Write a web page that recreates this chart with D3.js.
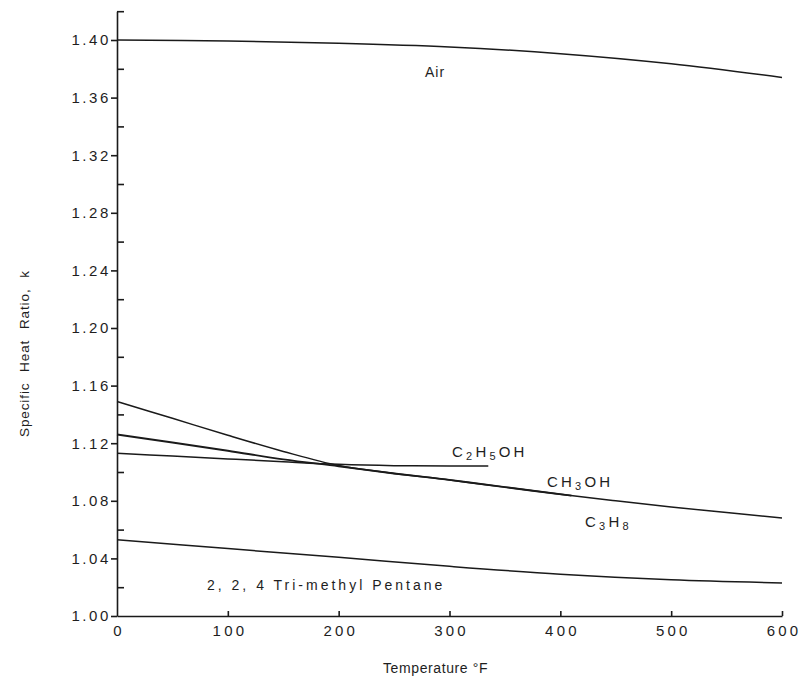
<!DOCTYPE html>
<html>
<head>
<meta charset="utf-8">
<script src="https://cdn.jsdelivr.net/npm/d3@7"></script>
<style>
  html, body { margin: 0; padding: 0; background: #fff; }
  svg { display: block; }
  text { fill: #1e1e1e; }
</style>
</head>
<body>
<svg id="chart" width="801" height="676"></svg>
<script>
// Specific heat ratio k versus temperature (°F)
const airTemps = [0, 100, 200, 300, 400, 500, 600];
const airK     = [1.400, 1.3993, 1.3978, 1.3952, 1.3905, 1.3835, 1.374];

const propaneTemps = [0, 50, 100, 150, 200, 250, 300, 350, 400, 450, 500, 550, 600];
const propaneK     = [1.149, 1.1373, 1.1255, 1.1143, 1.1045, 1.0990, 1.0945, 1.0895, 1.0845, 1.0800, 1.0757, 1.0718, 1.068];

const methanolTemps = [0, 50, 100, 150, 200, 250, 300, 350, 410];
const methanolK     = [1.126, 1.1205, 1.1148, 1.1088, 1.1040, 1.0990, 1.0945, 1.0895, 1.0836];

const ethanolTemps = [0, 50, 100, 150, 200, 250, 300, 335];
const ethanolK     = [1.113, 1.1111, 1.1091, 1.1071, 1.1053, 1.1044, 1.1042, 1.1042];

const pentaneTemps = [0, 100, 200, 300, 400, 500, 600];
const pentaneK     = [1.053, 1.0468, 1.0408, 1.0345, 1.0290, 1.0252, 1.023];

const xTicks      = [0, 100, 200, 300, 400, 500, 600];
const yMajorTicks = [1.00, 1.04, 1.08, 1.12, 1.16, 1.20, 1.24, 1.28, 1.32, 1.36, 1.40];
const yMinorTicks = [1.02, 1.06, 1.10, 1.14, 1.18, 1.22, 1.26, 1.30, 1.34, 1.38, 1.42];

const svg = d3.select("#chart");
const FONT = "'Liberation Sans', Arial, sans-serif";

const x = d3.scaleLinear().domain([0, 600]).range([117, 782]);
const y = d3.scaleLinear().domain([1.00, 1.42]).range([616, 11.2]);

// y axis: labelled ticks outside, intermediate ticks inside
const yAxis = svg.append("g")
  .attr("transform", `translate(${x(0)},0)`)
  .call(d3.axisLeft(y).tickValues(yMajorTicks).tickFormat(d3.format(".2f"))
    .tickSize(6).tickSizeOuter(0).tickPadding(0));
yAxis.selectAll("text")
  .attr("font-family", FONT).attr("font-size", 15)
  .attr("letter-spacing", "2.6px").attr("fill", "#1e1e1e");

const yMinor = svg.append("g")
  .attr("transform", `translate(${x(0)},0)`)
  .call(d3.axisRight(y).tickValues(yMinorTicks).tickFormat("").tickSize(7).tickSizeOuter(0));
yMinor.select(".domain").remove();

// x axis: ticks point into the plot
const xAxis = svg.append("g")
  .attr("transform", `translate(0,${y(1.00)})`)
  .call(d3.axisBottom(x).tickValues(xTicks).tickFormat(d3.format("d"))
    .tickSize(-5).tickSizeOuter(0).tickPadding(9));
xAxis.selectAll(".tick").filter(d => d === 0).select("line").remove();
xAxis.selectAll("text")
  .attr("font-family", FONT).attr("font-size", 15)
  .attr("letter-spacing", "3.2px").attr("dx", "1.6px").attr("fill", "#1e1e1e");

svg.selectAll(".domain, .tick line")
  .attr("stroke", "#1a1a1a").attr("stroke-width", 1.6);

// curves
const line = d3.line()
  .x(d => x(d[0]))
  .y(d => y(d[1]))
  .curve(d3.curveCatmullRom.alpha(0.5));

const series = [
  [airTemps, airK],
  [pentaneTemps, pentaneK],
  [ethanolTemps, ethanolK],
  [propaneTemps, propaneK],
  [methanolTemps, methanolK]
];
svg.append("g").selectAll("path")
  .data(series)
  .join("path")
  .attr("d", s => line(d3.zip(s[0], s[1])))
  .attr("fill", "none")
  .attr("stroke", "#1a1a1a")
  .attr("stroke-width", (s, i) => i === 4 ? 1.9 : 1.5);

// curve labels with chemical subscripts
function formula(xPos, yPos, parts) {
  const t = svg.append("text")
    .attr("x", xPos).attr("y", yPos)
    .attr("font-family", FONT).attr("font-size", 15)
    .attr("letter-spacing", "3.2px");
  let sub = false;
  parts.forEach(p => {
    const isSub = /^\d$/.test(p);
    t.append("tspan")
      .attr("font-size", isSub ? 11 : 15)
      .attr("dy", isSub === sub ? 0 : (isSub ? 3 : -3))
      .text(p);
    sub = isSub;
  });
  return t;
}

svg.append("text").attr("x", 425).attr("y", 77)
  .attr("font-family", FONT).attr("font-size", 14)
  .attr("letter-spacing", "1px").text("Air");

formula(452, 457, ["C", "2", "H", "5", "OH"]);
formula(547, 487, ["CH", "3", "OH"]);
formula(585, 527, ["C", "3", "H", "8"]);

svg.append("text").attr("x", 207).attr("y", 590)
  .attr("font-family", FONT).attr("font-size", 14)
  .attr("letter-spacing", "3px").text("2, 2, 4 Tri-methyl Pentane");

// axis titles
svg.append("text")
  .attr("x", 383).attr("y", 673)
  .attr("font-family", FONT).attr("font-size", 14)
  .attr("letter-spacing", "0.6px")
  .text("Temperature \u00B0F");

svg.append("text")
  .attr("transform", "translate(29,437) rotate(-90)")
  .attr("font-family", FONT).attr("font-size", 13.5)
  .attr("letter-spacing", "0.9px").attr("word-spacing", "6px")
  .text("Specific Heat Ratio, k");
</script>
</body>
</html>
